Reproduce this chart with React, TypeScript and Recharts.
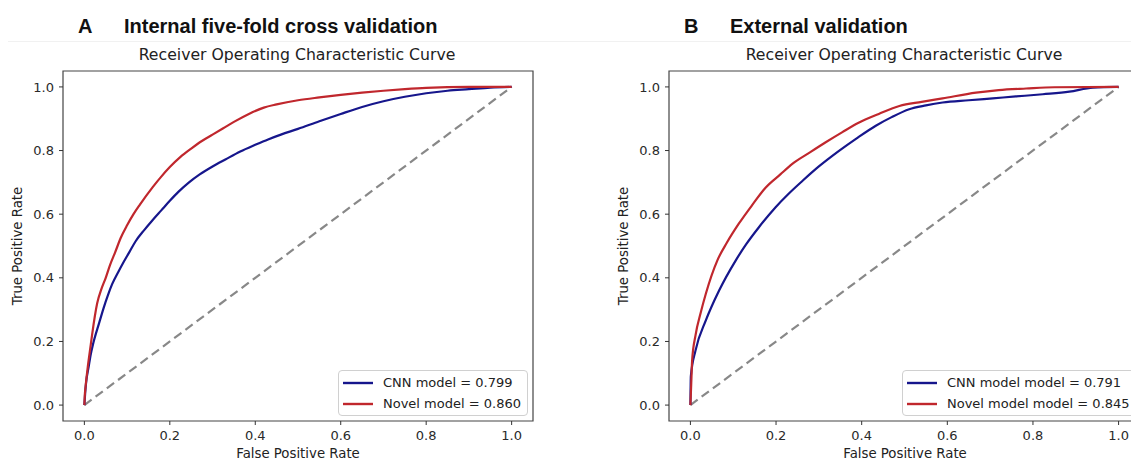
import { Legend, Line, LineChart, ReferenceArea, XAxis, YAxis } from "recharts";
import { type JSX } from "react";

interface IRocPoint {
  fpr: number;
  tpr: number;
}

// left panel: internal five-fold cross validation
const leftCnn: IRocPoint[] = [
  { fpr: 0, tpr: 0 }, { fpr: 0.002, tpr: 0.04 }, { fpr: 0.004, tpr: 0.07 },
  { fpr: 0.01, tpr: 0.12 }, { fpr: 0.015, tpr: 0.16 }, { fpr: 0.02, tpr: 0.19 },
  { fpr: 0.035, tpr: 0.26 }, { fpr: 0.045, tpr: 0.305 }, { fpr: 0.055, tpr: 0.345 },
  { fpr: 0.065, tpr: 0.38 }, { fpr: 0.08, tpr: 0.42 }, { fpr: 0.09, tpr: 0.445 },
  { fpr: 0.105, tpr: 0.48 }, { fpr: 0.12, tpr: 0.515 }, { fpr: 0.14, tpr: 0.55 },
  { fpr: 0.16, tpr: 0.582 }, { fpr: 0.18, tpr: 0.612 }, { fpr: 0.2, tpr: 0.642 },
  { fpr: 0.22, tpr: 0.67 }, { fpr: 0.245, tpr: 0.7 }, { fpr: 0.27, tpr: 0.725 },
  { fpr: 0.3, tpr: 0.75 }, { fpr: 0.33, tpr: 0.772 }, { fpr: 0.365, tpr: 0.797 },
  { fpr: 0.4, tpr: 0.818 }, { fpr: 0.43, tpr: 0.835 }, { fpr: 0.46, tpr: 0.85 },
  { fpr: 0.5, tpr: 0.868 }, { fpr: 0.55, tpr: 0.892 }, { fpr: 0.6, tpr: 0.915 },
  { fpr: 0.65, tpr: 0.937 }, { fpr: 0.7, tpr: 0.955 }, { fpr: 0.75, tpr: 0.969 },
  { fpr: 0.8, tpr: 0.98 }, { fpr: 0.85, tpr: 0.988 }, { fpr: 0.9, tpr: 0.993 },
  { fpr: 0.95, tpr: 0.998 }, { fpr: 1, tpr: 1 },
];
const leftNovel: IRocPoint[] = [
  { fpr: 0, tpr: 0 }, { fpr: 0.001, tpr: 0.03 }, { fpr: 0.003, tpr: 0.06 },
  { fpr: 0.008, tpr: 0.12 }, { fpr: 0.015, tpr: 0.19 }, { fpr: 0.018, tpr: 0.22 },
  { fpr: 0.03, tpr: 0.32 }, { fpr: 0.04, tpr: 0.365 }, { fpr: 0.05, tpr: 0.4 },
  { fpr: 0.06, tpr: 0.44 }, { fpr: 0.072, tpr: 0.48 }, { fpr: 0.085, tpr: 0.525 },
  { fpr: 0.1, tpr: 0.565 }, { fpr: 0.115, tpr: 0.6 }, { fpr: 0.13, tpr: 0.63 },
  { fpr: 0.16, tpr: 0.685 }, { fpr: 0.18, tpr: 0.718 }, { fpr: 0.2, tpr: 0.748 },
  { fpr: 0.225, tpr: 0.78 }, { fpr: 0.25, tpr: 0.806 }, { fpr: 0.275, tpr: 0.83 },
  { fpr: 0.3, tpr: 0.85 }, { fpr: 0.325, tpr: 0.87 }, { fpr: 0.35, tpr: 0.89 },
  { fpr: 0.385, tpr: 0.915 }, { fpr: 0.42, tpr: 0.935 }, { fpr: 0.45, tpr: 0.945 },
  { fpr: 0.5, tpr: 0.958 }, { fpr: 0.55, tpr: 0.967 }, { fpr: 0.6, tpr: 0.975 },
  { fpr: 0.65, tpr: 0.982 }, { fpr: 0.7, tpr: 0.988 }, { fpr: 0.75, tpr: 0.993 },
  { fpr: 0.8, tpr: 0.997 }, { fpr: 0.9, tpr: 1 }, { fpr: 1, tpr: 1 },
];

// right panel: external validation
const rightCnn: IRocPoint[] = [
  { fpr: 0, tpr: 0 }, { fpr: 0.001, tpr: 0.09 }, { fpr: 0.012, tpr: 0.172 },
  { fpr: 0.036, tpr: 0.266 }, { fpr: 0.067, tpr: 0.36 }, { fpr: 0.106, tpr: 0.455 },
  { fpr: 0.13, tpr: 0.505 }, { fpr: 0.16, tpr: 0.559 }, { fpr: 0.199, tpr: 0.622 },
  { fpr: 0.23, tpr: 0.665 }, { fpr: 0.262, tpr: 0.705 }, { fpr: 0.3, tpr: 0.75 },
  { fpr: 0.347, tpr: 0.799 }, { fpr: 0.39, tpr: 0.84 }, { fpr: 0.433, tpr: 0.878 },
  { fpr: 0.47, tpr: 0.905 }, { fpr: 0.511, tpr: 0.93 }, { fpr: 0.55, tpr: 0.942 },
  { fpr: 0.589, tpr: 0.951 }, { fpr: 0.65, tpr: 0.958 }, { fpr: 0.706, tpr: 0.964 },
  { fpr: 0.76, tpr: 0.97 }, { fpr: 0.823, tpr: 0.977 }, { fpr: 0.885, tpr: 0.985 },
  { fpr: 0.94, tpr: 0.998 }, { fpr: 1, tpr: 1 },
];
const rightNovel: IRocPoint[] = [
  { fpr: 0, tpr: 0 }, { fpr: 0.002, tpr: 0.07 }, { fpr: 0.004, tpr: 0.14 },
  { fpr: 0.012, tpr: 0.22 }, { fpr: 0.024, tpr: 0.29 }, { fpr: 0.036, tpr: 0.35 },
  { fpr: 0.063, tpr: 0.455 }, { fpr: 0.085, tpr: 0.51 }, { fpr: 0.113, tpr: 0.57 },
  { fpr: 0.145, tpr: 0.63 }, { fpr: 0.176, tpr: 0.684 }, { fpr: 0.21, tpr: 0.725 },
  { fpr: 0.238, tpr: 0.758 }, { fpr: 0.28, tpr: 0.795 }, { fpr: 0.316, tpr: 0.826 },
  { fpr: 0.355, tpr: 0.858 }, { fpr: 0.394, tpr: 0.888 }, { fpr: 0.44, tpr: 0.915 },
  { fpr: 0.488, tpr: 0.94 }, { fpr: 0.54, tpr: 0.953 }, { fpr: 0.589, tpr: 0.964 },
  { fpr: 0.667, tpr: 0.982 }, { fpr: 0.72, tpr: 0.99 }, { fpr: 0.784, tpr: 0.995 },
  { fpr: 0.85, tpr: 0.999 }, { fpr: 1, tpr: 1 },
];

const diagonal: IRocPoint[] = [
  { fpr: 0, tpr: 0 },
  { fpr: 1, tpr: 1 },
];

const axisTicks: number[] = [0, 0.2, 0.4, 0.6, 0.8, 1];

const FONT = "'DejaVu Sans', sans-serif";
const BOLD_FONT = "'Liberation Sans', Arial, sans-serif";
const BLUE = "#16168c";
const RED = "#c0272d";

const renderLegend = ({ payload }: any) => (
  <div
    style={{
      border: "1px solid #d0d0d0",
      borderRadius: 4,
      background: "white",
      padding: "1px 6px 1px 4px",
      fontFamily: FONT,
      fontSize: 13,
      color: "#222",
      boxSizing: "border-box",
    }}
  >
    {(payload ?? [])
      .filter((entry: any) => entry.type !== "none" && entry.value !== "tpr")
      .map((entry: any) => (
        <div
          key={entry.value}
          style={{ display: "flex", alignItems: "center", height: 21, whiteSpace: "nowrap" }}
        >
          <svg width={30} height={4} style={{ marginRight: 10 }}>
            <line x1={0} y1={2} x2={30} y2={2} stroke={entry.color} strokeWidth={2.4} />
          </svg>
          {entry.value}
        </div>
      ))}
  </div>
);

interface IRocPanelProps {
  cnn: IRocPoint[];
  novel: IRocPoint[];
  cnnName: string;
  novelName: string;
  yAxisWidth: number;
  rightMargin: number;
  legendLeft: number;
}

const RocPanel = ({
  cnn,
  novel,
  cnnName,
  novelName,
  yAxisWidth,
  rightMargin,
  legendLeft,
}: IRocPanelProps): JSX.Element => {
  const tickStyle = { fontFamily: FONT, fontSize: 13, fill: "#2a2a2a" };
  return (
    <LineChart
      width={560}
      height={460}
      margin={{ top: 71, right: rightMargin, bottom: 0, left: 0 }}
    >
      <XAxis
        dataKey="fpr"
        type="number"
        domain={[-0.05, 1.05]}
        ticks={axisTicks}
        tickFormatter={(v: number) => v.toFixed(1)}
        allowDataOverflow
        height={39}
        axisLine={false}
        tickSize={4}
        tickMargin={6}
        tickLine={{ stroke: "#333" }}
        tick={tickStyle}
      />
      <YAxis
        dataKey="tpr"
        type="number"
        domain={[-0.05, 1.05]}
        ticks={axisTicks}
        tickFormatter={(v: number) => v.toFixed(1)}
        allowDataOverflow
        width={yAxisWidth}
        axisLine={false}
        tickSize={4}
        tickMargin={5}
        tickLine={{ stroke: "#333" }}
        tick={tickStyle}
      />
      <ReferenceArea
        x1={-0.05}
        x2={1.05}
        y1={-0.05}
        y2={1.05}
        fill="none"
        stroke="#444"
        strokeWidth={1.2}
        ifOverflow="visible"
      />
      <Line
        data={diagonal}
        dataKey="tpr"
        stroke="#888"
        strokeWidth={2.2}
        strokeDasharray="9 5"
        dot={false}
        legendType="none"
        isAnimationActive={false}
      />
      <Line
        type="monotone"
        data={cnn}
        dataKey="tpr"
        name={cnnName}
        stroke={BLUE}
        strokeWidth={2.2}
        dot={false}
        isAnimationActive={false}
      />
      <Line
        type="monotone"
        data={novel}
        dataKey="tpr"
        name={novelName}
        stroke={RED}
        strokeWidth={2.2}
        dot={false}
        isAnimationActive={false}
      />
      <Legend
        layout="vertical"
        align="center"
        verticalAlign="middle"
        content={renderLegend}
        wrapperStyle={{ left: legendLeft, top: 370, width: "auto", height: "auto" }}
      />
    </LineChart>
  );
};

const textBase = {
  position: "absolute" as const,
  whiteSpace: "nowrap" as const,
  lineHeight: 1,
};

const headingStyle = {
  ...textBase,
  top: 16,
  fontFamily: BOLD_FONT,
  fontWeight: 700,
  fontSize: 20,
  color: "#111",
};

const App = (): JSX.Element => {
  return (
    <div
      style={{
        position: "absolute",
        left: 0,
        top: 0,
        width: 1131,
        height: 460,
        overflow: "hidden",
        background: "white",
      }}
    >
      <div
        style={{ position: "absolute", left: 8, right: 0, top: 41, height: 1, background: "#f1f1f1" }}
      />

      {/* panel headings */}
      <div style={{ ...headingStyle, left: 78 }}>A</div>
      <div style={{ ...headingStyle, left: 124 }}>Internal five-fold cross validation</div>
      <div style={{ ...headingStyle, left: 684 }}>B</div>
      <div style={{ ...headingStyle, left: 730 }}>External validation</div>

      {/* left chart */}
      <div style={{ position: "absolute", left: 0, top: 0 }}>
        <RocPanel
          cnn={leftCnn}
          novel={leftNovel}
          cnnName="CNN model = 0.799"
          novelName="Novel model = 0.860"
          yAxisWidth={63}
          rightMargin={27}
          legendLeft={338}
        />
      </div>
      {/* right chart */}
      <div style={{ position: "absolute", left: 600, top: 0 }}>
        <RocPanel
          cnn={rightCnn}
          novel={rightNovel}
          cnnName="CNN model model = 0.791"
          novelName="Novel model model = 0.845"
          yAxisWidth={69}
          rightMargin={20}
          legendLeft={302}
        />
      </div>

      {/* plot titles and axis labels */}
      <div style={{ ...textBase, left: 297, top: 47, transform: "translateX(-50%)", fontFamily: FONT, fontSize: 15.7, color: "#222" }}>
        Receiver Operating Characteristic Curve
      </div>
      <div style={{ ...textBase, left: 904, top: 47, transform: "translateX(-50%)", fontFamily: FONT, fontSize: 15.7, color: "#222" }}>
        Receiver Operating Characteristic Curve
      </div>
      <div style={{ ...textBase, left: 298, top: 447, transform: "translateX(-50%)", fontFamily: FONT, fontSize: 13.3, color: "#222" }}>
        False Positive Rate
      </div>
      <div style={{ ...textBase, left: 905, top: 447, transform: "translateX(-50%)", fontFamily: FONT, fontSize: 13.3, color: "#222" }}>
        False Positive Rate
      </div>
      <div style={{ ...textBase, left: 18, top: 246, transform: "translate(-50%, -50%) rotate(-90deg)", fontFamily: FONT, fontSize: 13.3, color: "#222" }}>
        True Positive Rate
      </div>
      <div style={{ ...textBase, left: 624, top: 246, transform: "translate(-50%, -50%) rotate(-90deg)", fontFamily: FONT, fontSize: 13.3, color: "#222" }}>
        True Positive Rate
      </div>
    </div>
  );
};

export default App;
